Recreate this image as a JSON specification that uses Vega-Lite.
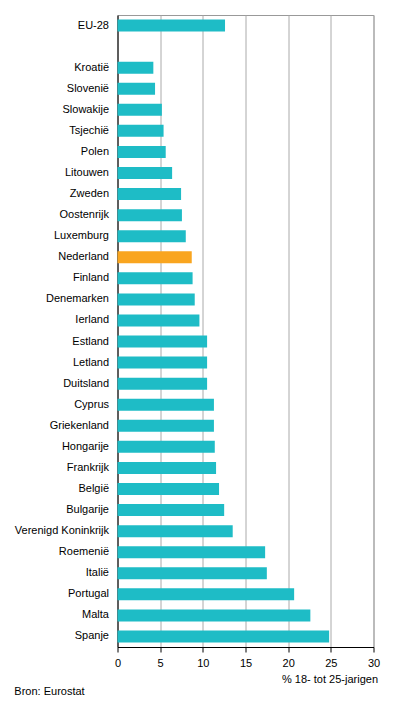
{
  "$schema": "https://vega.github.io/schema/vega-lite/v6.json",
  "autosize": {"type": "none"},
  "width": 256,
  "height": 632,
  "padding": {"left": 117.5, "top": 15, "right": 22.5, "bottom": 58},
  "background": "white",
  "config": {
    "font": "Liberation Sans",
    "view": {"stroke": "#999999", "strokeWidth": 1},
    "axis": {"labelFont": "Liberation Sans", "titleFont": "Liberation Sans", "labelFontSize": 11, "titleFontSize": 11, "labelColor": "#000000", "titleColor": "#000000", "titleFontWeight": "normal", "labelFontWeight": "normal"}
  },
  "title": {"text": "Bron: Eurostat", "orient": "bottom", "anchor": "start", "frame": "bounds", "fontSize": 11, "fontWeight": "normal", "font": "Liberation Sans", "color": "#000000", "offset": 2},
  "data": {
    "values": [
      {"land": "EU-28", "waarde": 12.6, "groep": "overig"},
      {"land": "Kroatië", "waarde": 4.2, "groep": "overig"},
      {"land": "Slovenië", "waarde": 4.4, "groep": "overig"},
      {"land": "Slowakije", "waarde": 5.2, "groep": "overig"},
      {"land": "Tsjechië", "waarde": 5.4, "groep": "overig"},
      {"land": "Polen", "waarde": 5.65, "groep": "overig"},
      {"land": "Litouwen", "waarde": 6.4, "groep": "overig"},
      {"land": "Zweden", "waarde": 7.45, "groep": "overig"},
      {"land": "Oostenrijk", "waarde": 7.55, "groep": "overig"},
      {"land": "Luxemburg", "waarde": 8.0, "groep": "overig"},
      {"land": "Nederland", "waarde": 8.7, "groep": "Nederland"},
      {"land": "Finland", "waarde": 8.8, "groep": "overig"},
      {"land": "Denemarken", "waarde": 9.05, "groep": "overig"},
      {"land": "Ierland", "waarde": 9.6, "groep": "overig"},
      {"land": "Estland", "waarde": 10.5, "groep": "overig"},
      {"land": "Letland", "waarde": 10.5, "groep": "overig"},
      {"land": "Duitsland", "waarde": 10.5, "groep": "overig"},
      {"land": "Cyprus", "waarde": 11.3, "groep": "overig"},
      {"land": "Griekenland", "waarde": 11.3, "groep": "overig"},
      {"land": "Hongarije", "waarde": 11.4, "groep": "overig"},
      {"land": "Frankrijk", "waarde": 11.55, "groep": "overig"},
      {"land": "België", "waarde": 11.9, "groep": "overig"},
      {"land": "Bulgarije", "waarde": 12.5, "groep": "overig"},
      {"land": "Verenigd Koninkrijk", "waarde": 13.5, "groep": "overig"},
      {"land": "Roemenië", "waarde": 17.3, "groep": "overig"},
      {"land": "Italië", "waarde": 17.5, "groep": "overig"},
      {"land": "Portugal", "waarde": 20.7, "groep": "overig"},
      {"land": "Malta", "waarde": 22.6, "groep": "overig"},
      {"land": "Spanje", "waarde": 24.8, "groep": "overig"}
    ]
  },
  "mark": {"type": "bar"},
  "encoding": {
    "y": {
      "field": "land",
      "type": "nominal",
      "scale": {
        "domain": ["EU-28", " ", "Kroatië", "Slovenië", "Slowakije", "Tsjechië", "Polen", "Litouwen", "Zweden", "Oostenrijk", "Luxemburg", "Nederland", "Finland", "Denemarken", "Ierland", "Estland", "Letland", "Duitsland", "Cyprus", "Griekenland", "Hongarije", "Frankrijk", "België", "Bulgarije", "Verenigd Koninkrijk", "Roemenië", "Italië", "Portugal", "Malta", "Spanje"],
        "paddingInner": 0.43,
        "paddingOuter": 0.215
      },
      "axis": {"title": null, "ticks": false, "domainColor": "#000000", "labelPadding": 9, "grid": false}
    },
    "x": {
      "field": "waarde",
      "type": "quantitative",
      "scale": {"domain": [0, 30], "nice": false},
      "axis": {"title": "% 18- tot 25-jarigen", "values": [0, 5, 10, 15, 20, 25, 30], "labelOverlap": false, "labelFlush": false, "grid": true, "gridColor": "#aaaaaa", "gridWidth": 1, "domainColor": "#000000", "tickColor": "#000000", "tickSize": 5, "labelPadding": 5, "titleAnchor": "end", "titleAlign": "right", "titlePadding": 5, "titleX": 260}
    },
    "color": {
      "field": "groep",
      "type": "nominal",
      "scale": {"domain": ["overig", "Nederland"], "range": ["#1ebcc6", "#f9a51f"]},
      "legend": null
    }
  }
}
